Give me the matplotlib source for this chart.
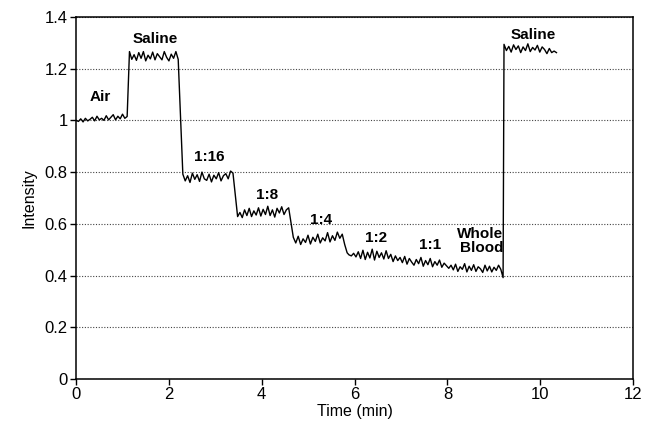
import numpy as np
import matplotlib
matplotlib.use("Agg")
import matplotlib.pyplot as plt

plt.rcParams['font.family'] = ['Liberation Sans', 'DejaVu Sans']

# trace segments: (start min, end min, intensity readings)
air = [1.000, 0.996, 1.006, 0.994, 1.008, 0.998, 1.004, 1.012, 0.998, 1.016, 1.002, 1.008,
       1.000, 1.018, 1.002, 1.012, 1.022, 1.002, 1.016, 1.006, 1.024, 1.008, 1.015]
saline1 = [1.266, 1.236, 1.254, 1.232, 1.262, 1.240, 1.266, 1.230, 1.252, 1.238, 1.264,
           1.234, 1.258, 1.246, 1.234, 1.266, 1.244, 1.230, 1.256, 1.240, 1.266, 1.236]
dil16 = [0.792, 0.766, 0.786, 0.760, 0.796, 0.772, 0.790, 0.764, 0.800, 0.774, 0.768,
         0.792, 0.762, 0.788, 0.774, 0.798, 0.766, 0.786, 0.794, 0.774, 0.804, 0.796]
dil8 = [0.628, 0.644, 0.624, 0.654, 0.632, 0.660, 0.628, 0.650, 0.634, 0.662, 0.630, 0.656,
        0.636, 0.668, 0.632, 0.654, 0.626, 0.660, 0.642, 0.666, 0.636, 0.654, 0.662]
dil4 = [0.548, 0.526, 0.552, 0.520, 0.542, 0.528, 0.556, 0.522, 0.548, 0.532, 0.560,
        0.526, 0.546, 0.534, 0.566, 0.530, 0.554, 0.536, 0.568, 0.544, 0.560, 0.520, 0.488]
dil2 = [0.480, 0.476, 0.486, 0.472, 0.492, 0.466, 0.498, 0.462, 0.490, 0.468, 0.502, 0.460,
        0.494, 0.470, 0.488, 0.464, 0.496, 0.466, 0.482, 0.454, 0.476, 0.458, 0.470]
dil1 = [0.450, 0.474, 0.444, 0.466, 0.452, 0.440, 0.462, 0.446, 0.470, 0.436, 0.458,
        0.442, 0.466, 0.434, 0.454, 0.440, 0.460, 0.432, 0.448, 0.438]
blood = [0.428, 0.440, 0.422, 0.444, 0.416, 0.434, 0.424, 0.446, 0.414, 0.436, 0.420, 0.442,
         0.416, 0.434, 0.426, 0.412, 0.440, 0.418, 0.436, 0.414, 0.432, 0.420, 0.440, 0.424,
         0.392]
saline2 = [1.294, 1.270, 1.286, 1.264, 1.292, 1.274, 1.288, 1.262, 1.284, 1.270, 1.296,
           1.266, 1.282, 1.272, 1.290, 1.264, 1.284, 1.274, 1.258, 1.278, 1.262, 1.268, 1.262]

segments = [(0.0, 1.10, air), (1.15, 2.20, saline1), (2.30, 3.38, dil16),
            (3.48, 4.58, dil8), (4.68, 5.84, dil4), (5.88, 6.98, dil2),
            (7.03, 7.98, dil1), (8.03, 9.20, blood), (9.22, 10.35, saline2)]

labels = ["Air", "Saline", "1:16", "1:8", "1:4", "1:2", "1:1", "Whole\nBlood", "Saline"]
label_x = [0.52, 1.70, 2.87, 4.12, 5.28, 6.47, 7.63, 9.20, 9.85]
label_y = [1.09, 1.315, 0.86, 0.71, 0.615, 0.545, 0.52, 0.534, 1.33]
label_ha = ["center"] * 7 + ["right", "center"]

t = []
v = []
for start, end, vals in segments:
    t.extend(np.linspace(start, end, len(vals)))
    v.extend(vals)

fig = plt.figure(figsize=(6.56, 4.23), dpi=100)
ax = fig.add_axes([0.116, 0.104, 0.849, 0.856])

ax.plot(t, v, color='black', lw=1.0)

for txt, x, y, ha in zip(labels, label_x, label_y, label_ha):
    ax.text(x, y, txt, ha=ha, va='center', fontsize=11, fontweight='bold',
            linespacing=0.95)

ax.set_xlim(0, 12)
ax.set_ylim(0, 1.4)
ax.set_xticks(range(0, 13, 2))
ax.set_yticks([0, 0.2, 0.4, 0.6, 0.8, 1.0, 1.2, 1.4])
ax.set_yticklabels(["0", "0.2", "0.4", "0.6", "0.8", "1", "1.2", "1.4"])
ax.yaxis.grid(True, color='#444444', lw=0.8, linestyle=(0, (1, 1.5)))
ax.set_axisbelow(True)
ax.tick_params(direction='out', length=4, width=1, labelsize=12, pad=2)
for s in ax.spines.values():
    s.set_linewidth(1.1)

ax.set_xlabel("Time (min)", fontsize=11.5, labelpad=1)
ax.set_ylabel("Intensity", fontsize=11.5, labelpad=6)

fig.savefig("out.png", dpi=100)
